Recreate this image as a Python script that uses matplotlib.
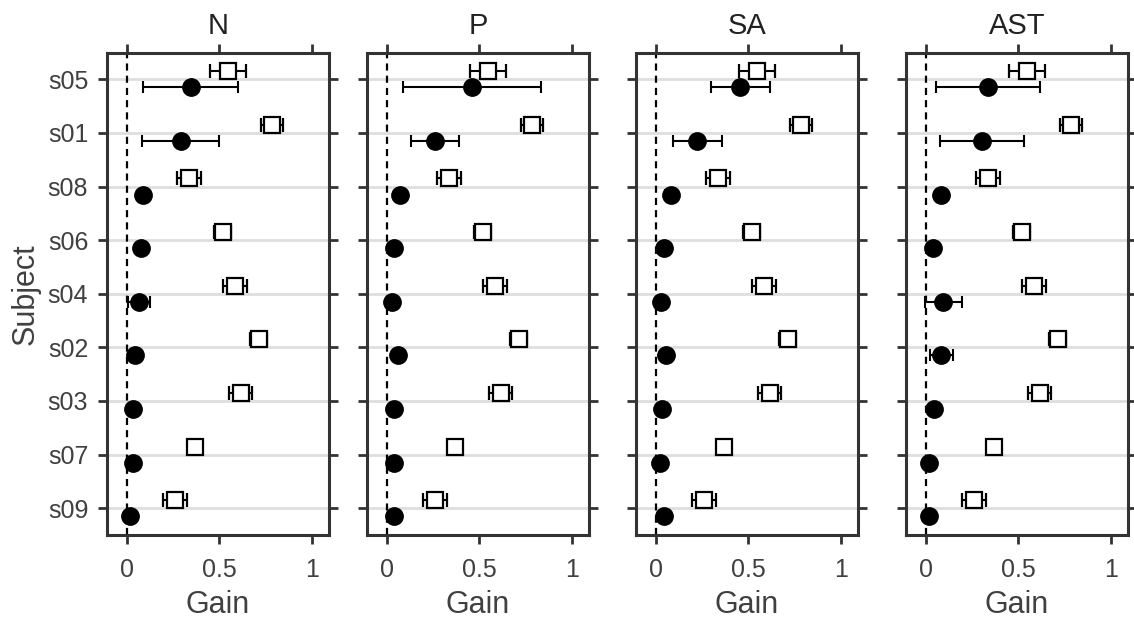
import matplotlib
matplotlib.use("Agg")
import matplotlib.pyplot as plt
import numpy as np

plt.rcParams["font.family"] = ["Liberation Sans", "DejaVu Sans"]

# Subjects, top to bottom
subjects = ["s05", "s01", "s08", "s06", "s04", "s02", "s03", "s07", "s09"]
conditions = ["N", "P", "SA", "AST"]

# Reference gain (open squares) and its spread, shared by all conditions
ref_gain = [0.545, 0.783, 0.338, 0.517, 0.585, 0.711, 0.614, 0.367, 0.262]
ref_err = [0.098, 0.059, 0.065, 0.046, 0.064, 0.044, 0.064, 0.0, 0.065]

# Condition gain (filled circles) and spread
gain_N = [0.345, 0.291, 0.087, 0.078, 0.069, 0.046, 0.037, 0.033, 0.019]
err_N = [0.256, 0.206, 0.0, 0.0, 0.060, 0.0, 0.0, 0.0, 0.0]
gain_P = [0.460, 0.260, 0.070, 0.043, 0.031, 0.063, 0.039, 0.043, 0.039]
err_P = [0.373, 0.128, 0.0, 0.0, 0.0, 0.0, 0.0, 0.0, 0.0]
gain_SA = [0.456, 0.226, 0.081, 0.047, 0.032, 0.057, 0.036, 0.023, 0.045]
err_SA = [0.158, 0.130, 0.030, 0.0, 0.0, 0.020, 0.0, 0.0, 0.0]
gain_AST = [0.337, 0.305, 0.081, 0.038, 0.095, 0.086, 0.045, 0.020, 0.020]
err_AST = [0.280, 0.227, 0.0, 0.0, 0.100, 0.061, 0.0, 0.0, 0.0]

gains = [gain_N, gain_P, gain_SA, gain_AST]
errs = [err_N, err_P, err_SA, err_AST]

xticks = [0, 0.5, 1]
xticklabels = ["0", "0.5", "1"]

W, H = 1134, 628
fig = plt.figure(figsize=(W / 100, H / 100), dpi=100)

lefts = [107, 367, 636, 906]
pw = 222
top_px, bot_px = 52.5, 535

dark = "#333333"
txt = "#404040"
ypos = np.arange(len(subjects), 0, -1)  # s05 at top
off = 0.15

for i, cond in enumerate(conditions):
    ax = fig.add_axes([lefts[i] / W, 1 - bot_px / H, pw / W, (bot_px - top_px) / H])
    ax.set_xlim(-0.105, 1.09)
    ax.set_ylim(0.5, len(subjects) + 0.5)

    for y in ypos:
        ax.axhline(y, color="#dedede", lw=2, zorder=0)
    ax.axvline(0, color="black", lw=1.6, ls=(0, (3.2, 2.3)), zorder=1)

    ax.errorbar(ref_gain, ypos + off, xerr=ref_err, fmt="s", ms=11,
                mfc="white", mec="black", mew=1.6, ecolor="black",
                elinewidth=1.5, capsize=5, capthick=1.5, zorder=3)
    ax.errorbar(gains[i], ypos - off, xerr=errs[i], fmt="o", ms=12.5,
                mfc="black", mec="black", ecolor="black",
                elinewidth=1.5, capsize=4, capthick=1.5, zorder=4)

    ax.set_xticks(xticks)
    ax.set_xticklabels(xticklabels)
    ax.set_yticks(ypos)
    ax.set_yticklabels(subjects if i == 0 else [])
    ax.tick_params(axis="both", direction="out", length=6.5, width=2, color=dark,
                   labelsize=18, labelcolor=txt,
                   top=True, right=True, labeltop=False, labelright=False)
    ax.tick_params(axis="x", pad=10)
    ax.tick_params(axis="y", pad=7)
    for s in ax.spines.values():
        s.set_linewidth(2.2)
        s.set_color(dark)

    ax.set_title(cond, fontsize=21, color="#222222", pad=13)
    ax.set_xlabel("Gain", fontsize=22, color=txt, labelpad=6)
    if i == 0:
        ax.set_ylabel("Subject", fontsize=22, color=txt, labelpad=5)

fig.savefig("out.png", dpi=100)
